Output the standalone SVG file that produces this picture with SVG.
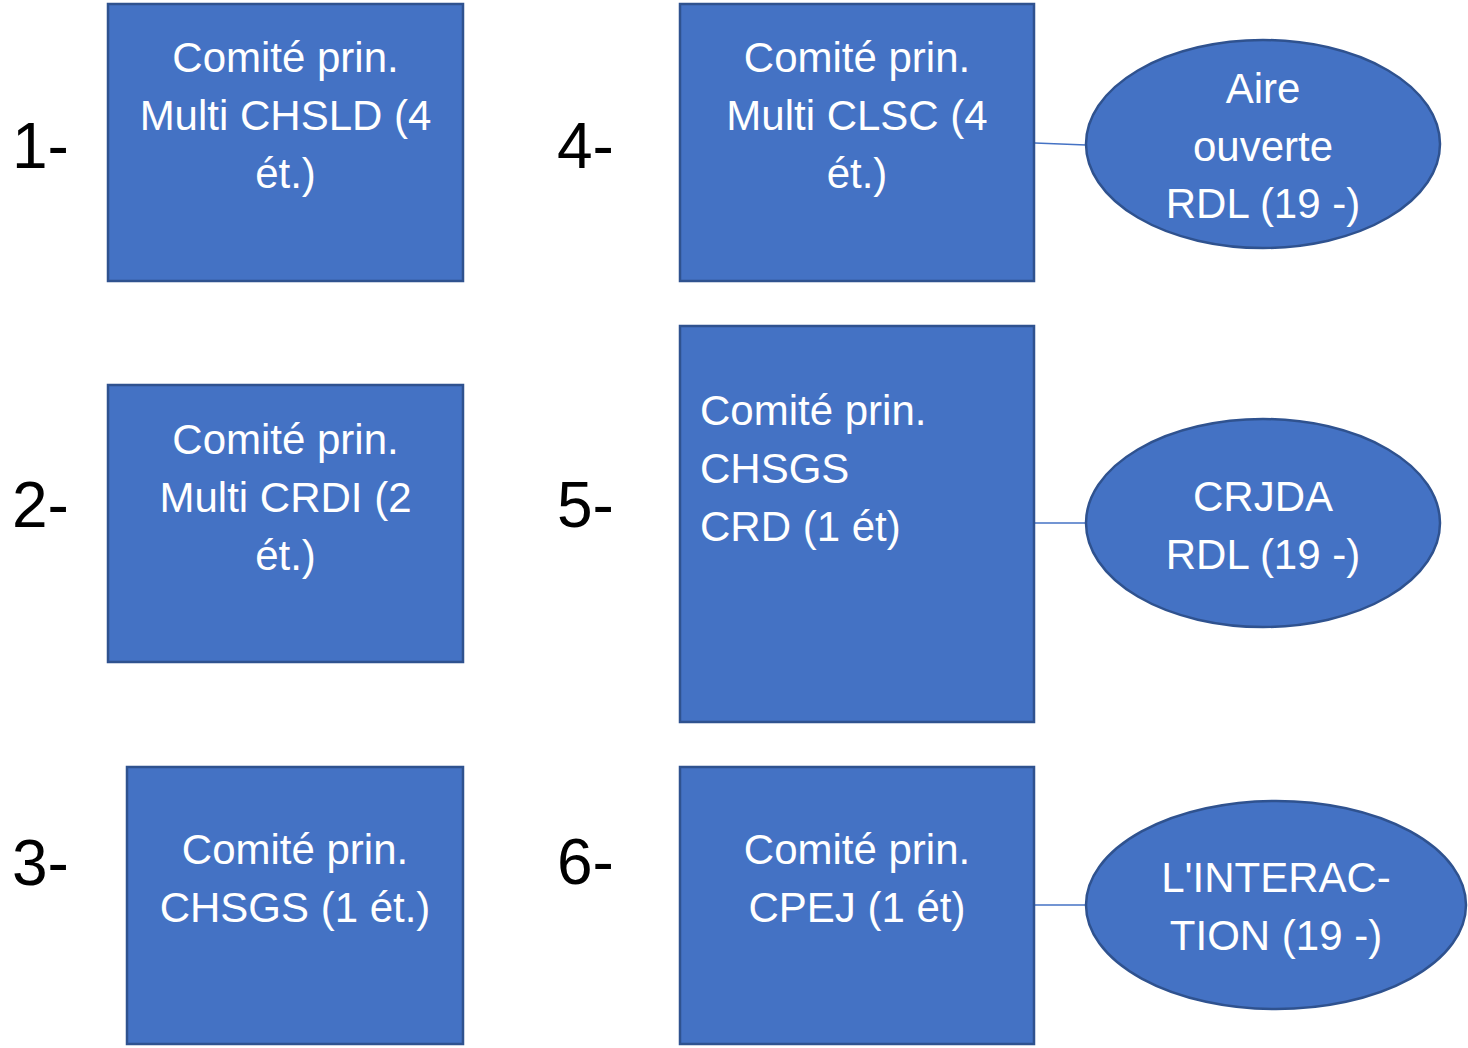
<svg xmlns="http://www.w3.org/2000/svg" width="1468" height="1048" viewBox="0 0 1468 1048">
<style>
.n{fill:#4472C4;stroke:#2F528F;stroke-width:2.5}
.t{font-family:"Liberation Sans",Arial,sans-serif;font-size:42px;fill:#fff;text-anchor:middle}
.tl{font-family:"Liberation Sans",Arial,sans-serif;font-size:42px;fill:#fff}
.lab{font-family:"Liberation Sans",Arial,sans-serif;font-size:64px;fill:#000}
.c{stroke:#4472C4;stroke-width:1.3;fill:none}
</style>
<rect width="1468" height="1048" fill="#fff"/>
<g id="labels">
<text class="lab" x="12" y="168">1-</text>
<text class="lab" x="12" y="527">2-</text>
<text class="lab" x="12" y="885">3-</text>
<text class="lab" x="557" y="168">4-</text>
<text class="lab" x="557" y="527">5-</text>
<text class="lab" x="557" y="884">6-</text>
</g>
<g id="connectors">
<line class="c" x1="1035" y1="143" x2="1086" y2="145"/>
<line class="c" x1="1035" y1="523" x2="1086" y2="523"/>
<line class="c" x1="1035" y1="905" x2="1086" y2="905"/>
</g>
<g id="n1"><rect class="n" x="108" y="4" width="355" height="277"/>
<text class="t" x="285.5" y="72">Comité prin.</text><text class="t" x="285.5" y="130">Multi CHSLD (4</text><text class="t" x="285.5" y="188">ét.)</text></g>
<g id="n2"><rect class="n" x="108" y="385" width="355" height="277"/>
<text class="t" x="285.5" y="454">Comité prin.</text><text class="t" x="285.5" y="512">Multi CRDI (2</text><text class="t" x="285.5" y="570">ét.)</text></g>
<g id="n3"><rect class="n" x="127" y="767" width="336" height="277"/>
<text class="t" x="295" y="864">Comité prin.</text><text class="t" x="295" y="922">CHSGS (1 ét.)</text></g>
<g id="n4"><rect class="n" x="680" y="4" width="354" height="277"/>
<text class="t" x="857" y="72">Comité prin.</text><text class="t" x="857" y="130">Multi CLSC (4</text><text class="t" x="857" y="188">ét.)</text></g>
<g id="n5"><rect class="n" x="680" y="326" width="354" height="396"/>
<text class="tl" x="700" y="425">Comité prin.</text><text class="tl" x="700" y="483">CHSGS</text><text class="tl" x="700" y="541">CRD (1 ét)</text></g>
<g id="n6"><rect class="n" x="680" y="767" width="354" height="277"/>
<text class="t" x="857" y="864">Comité prin.</text><text class="t" x="857" y="922">CPEJ (1 ét)</text></g>
<g id="e1"><ellipse class="n" cx="1263" cy="144" rx="177" ry="104"/>
<text class="t" x="1263" y="103">Aire</text><text class="t" x="1263" y="161">ouverte</text><text class="t" x="1263" y="218">RDL (19 -)</text></g>
<g id="e2"><ellipse class="n" cx="1263" cy="523" rx="177" ry="104"/>
<text class="t" x="1263" y="511">CRJDA</text><text class="t" x="1263" y="569">RDL (19 -)</text></g>
<g id="e3"><ellipse class="n" cx="1276" cy="905" rx="190" ry="104"/>
<text class="t" x="1276" y="892">L'INTERAC-</text><text class="t" x="1276" y="950">TION (19 -)</text></g>
</svg>
